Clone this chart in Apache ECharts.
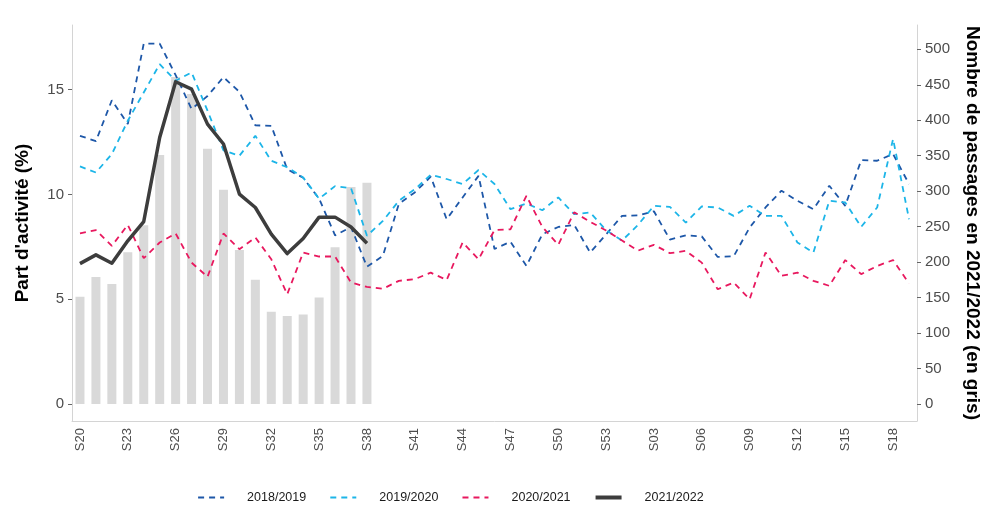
<!DOCTYPE html>
<html>
<head>
<meta charset="utf-8">
<script src="https://cdn.jsdelivr.net/npm/echarts@6/dist/echarts.min.js"></script>
<style>
  html, body { margin: 0; padding: 0; background: #fff; }
  #chart { width: 984px; height: 506px; }
</style>
</head>
<body>
<div id="chart"></div>
<script>
// semaines S20 -> S53 puis S01 -> S19
const weeks = ['S20','S21','S22','S23','S24','S25','S26','S27','S28','S29','S30','S31','S32','S33','S34','S35','S36','S37','S38','S39',
  'S40','S41','S42','S43','S44','S45','S46','S47','S48','S49','S50','S51','S52','S53',
  'S01','S02','S03','S04','S05','S06','S07','S08','S09','S10','S11','S12','S13','S14','S15','S16','S17','S18','S19'];

// part d'activité (%)
const s2018 = [12.8, 12.55, 14.5, 13.36, 17.2, 17.2, 15.7, 14.08, 14.7, 15.6, 14.9, 13.3, 13.28, 11.2, 10.8, 9.8, 8.05, 8.45, 6.55, 7.07,
  9.55, 10.1, 10.85, 8.82, 9.86, 10.89, 7.4, 7.75, 6.59, 8.1, 8.45, 8.55, 7.23, 8.1,
  8.98, 9.0, 9.2, 7.85, 8.05, 8.0, 7.02, 7.05, 8.42, 9.38, 10.18, 9.7, 9.3, 10.42, 9.46, 11.64, 11.61, 11.93, 10.5];
const s2019 = [11.34, 11.05, 11.93, 13.52, 14.87, 16.22, 15.43, 15.83, 14.0, 12.1, 11.85, 12.8, 11.61, 11.3, 10.81, 9.8, 10.4, 10.3, 8.03, 8.74,
  9.7, 10.25, 10.94, 10.74, 10.5, 11.17, 10.5, 9.3, 9.57, 9.25, 9.86, 9.06, 9.14, 8.3,
  7.8, 8.55, 9.46, 9.41, 8.66, 9.43, 9.38, 8.98, 9.46, 8.98, 8.98, 7.71, 7.23, 9.7, 9.62, 8.46, 9.38, 12.65, 8.82];
const s2020 = [8.14, 8.3, 7.55, 8.55, 6.96, 7.71, 8.14, 6.75, 6.07, 8.14, 7.39, 7.95, 6.91, 5.24, 7.23, 7.04, 7.04, 5.8, 5.59, 5.5,
  5.88, 5.96, 6.27, 5.92, 7.71, 6.91, 8.3, 8.34, 9.94, 8.45, 7.6, 9.15, 8.7, 8.28,
  7.8, 7.32, 7.6, 7.2, 7.31, 6.75, 5.48, 5.8, 5.0, 7.23, 6.12, 6.27, 5.88, 5.64, 6.87, 6.2, 6.59, 6.87, 5.75];
const s2021 = [6.7, 7.12, 6.72, 7.79, 8.71, 12.72, 15.38, 15.03, 13.36, 12.41, 10.02, 9.38, 8.11, 7.18, 7.9, 8.92, 8.92, 8.45, 7.67];

// nombre de passages 2021/2022 (barres grises)
const passages = [151, 179, 169, 214, 252, 351, 461, 437, 360, 302, 217, 175, 130, 124, 126, 150, 221, 306, 312];

const leftTicks = [0, 5, 10, 15];
const rightTicks = [0, 50, 100, 150, 200, 250, 300, 350, 400, 450, 500];

const chart = echarts.init(document.getElementById('chart'));

const axisColor = '#d4d4d4';
const labelColor = '#4d4d4d';
const fontFamily = 'Liberation Sans, Arial, sans-serif';

function dashed(name, data, color) {
  return {
    name: name,
    type: 'line',
    data: data,
    symbol: 'none',
    z: 3,
    lineStyle: { color: color, width: 1.8, type: [6, 5] },
    itemStyle: { color: color }
  };
}

const option = {
  animation: false,
  textStyle: { fontFamily: fontFamily },
  // grille fixe : ne pas laisser echarts la rétrécir pour le titre de droite
  grid: { left: 72, right: 67, top: 25, bottom: 85, outerBoundsMode: 'none' },
  legend: {
    left: 197,
    top: 491,
    padding: 0,
    itemWidth: 26,
    itemHeight: 16,
    itemGap: 23,
    itemStyle: { opacity: 0 },   // pas de rond dans la légende, seulement le trait
    textStyle: { fontSize: 12.5, color: '#1a1a1a', padding: [0, 0, 0, 18] },
    data: [
      { name: '2018/2019', lineStyle: { width: 2.2 } },
      { name: '2019/2020', lineStyle: { width: 2.2 } },
      { name: '2020/2021', lineStyle: { width: 2.2 } },
      { name: '2021/2022', lineStyle: { width: 4 } }
    ]
  },
  xAxis: {
    type: 'category',
    data: weeks,
    boundaryGap: true,
    axisLine: { onZero: false, lineStyle: { color: axisColor } },
    axisTick: { interval: 2, alignWithLabel: true, length: 4, lineStyle: { color: '#666' } },
    axisLabel: { interval: 2, rotate: 90, margin: 7, fontSize: 13, color: labelColor }
  },
  yAxis: [
    {
      type: 'value',
      min: -0.81,
      max: 18.09,
      name: "Part d'activité (%)",
      nameLocation: 'middle',
      nameGap: 40,
      nameTextStyle: { fontSize: 19, fontWeight: 'bold', color: '#000' },
      splitLine: { show: false },
      axisLine: { show: true, lineStyle: { color: axisColor } },
      axisTick: { show: true, length: 4, customValues: leftTicks, lineStyle: { color: '#666' } },
      axisLabel: { customValues: leftTicks, fontSize: 15, color: labelColor, margin: 8 }
    },
    {
      type: 'value',
      position: 'right',
      min: -24.0,
      max: 534.3,
      name: 'Nombre de passages en 2021/2022 (en gris)',
      nameLocation: 'middle',
      nameRotate: -90,
      nameGap: 46,
      nameTextStyle: { fontSize: 19, fontWeight: 'bold', color: '#000' },
      splitLine: { show: false },
      axisLine: { show: true, lineStyle: { color: axisColor } },
      axisTick: { show: true, length: 4, customValues: rightTicks, lineStyle: { color: '#666' } },
      axisLabel: { customValues: rightTicks, fontSize: 15, color: labelColor, margin: 8 }
    }
  ],
  series: [
    {
      name: 'passages',
      type: 'bar',
      yAxisIndex: 1,
      data: passages,
      barWidth: 9,
      z: 1,
      itemStyle: { color: '#d9d9d9' }
    },
    dashed('2018/2019', s2018, '#1d57a8'),
    dashed('2019/2020', s2019, '#1cb5e8'),
    dashed('2020/2021', s2020, '#e8185e'),
    {
      name: '2021/2022',
      type: 'line',
      data: s2021,
      symbol: 'none',
      z: 4,
      lineStyle: { color: '#3d3d3d', width: 3.5, join: 'round' },
      itemStyle: { color: '#3d3d3d' }
    }
  ]
};

chart.setOption(option);
</script>
</body>
</html>
